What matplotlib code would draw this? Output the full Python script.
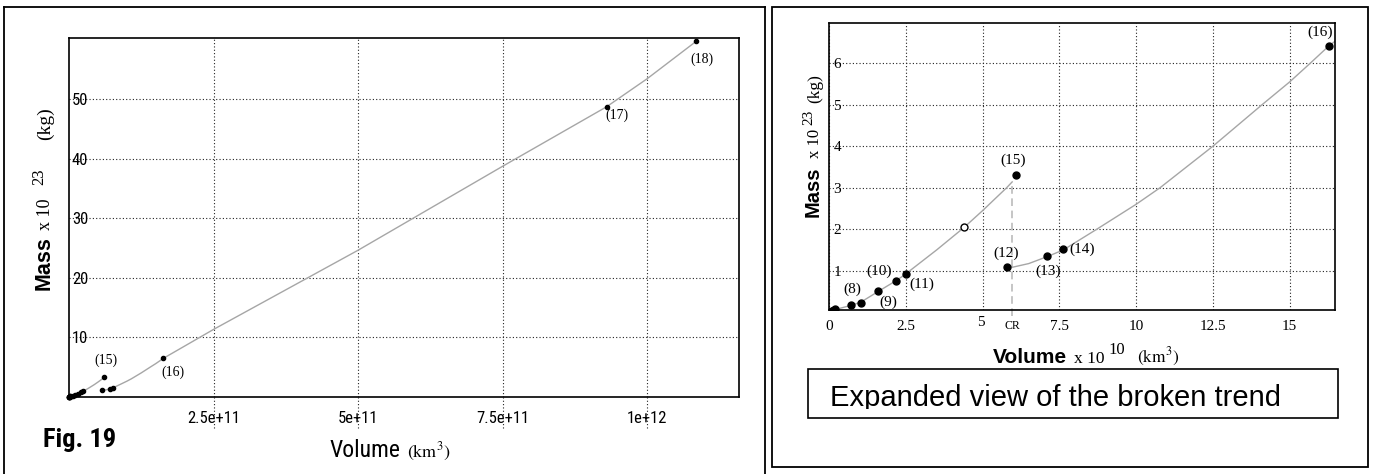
import matplotlib
matplotlib.use("Agg")
import matplotlib.pyplot as plt
from matplotlib import font_manager
from matplotlib.font_manager import FontProperties
from matplotlib.lines import Line2D
from matplotlib.patches import Rectangle
from matplotlib.transforms import Bbox, TransformedBbox, ScaledTranslation

# ---- data (volume in 1e10 km^3, mass in 1e23 kg) ----
point_names = ['', '', '', '', '', '', '', '(8)', '(9)', '(10)', '', '(11)',
               '(12)', '(13)', '(14)', '(15)', '(16)', '(17)', '(18)']
volume_e10 = [0.01, 0.03, 0.05, 0.08, 0.10, 0.14, 0.19, 0.70, 1.03, 1.60, 2.16, 2.50,
              5.78, 7.11, 7.63, 6.09, 16.28, 93.0, 108.5]
mass_e23 = [0.001, 0.004, 0.01, 0.02, 0.03, 0.05, 0.08, 0.16, 0.23, 0.51, 0.75, 0.92,
            1.09, 1.35, 1.51, 3.31, 6.42, 48.7, 59.7]

# trend before the break (up to CR)
trend_a_vol = [0.0, 0.19, 0.70, 1.03, 1.60, 2.16, 2.50, 2.63, 3.50, 4.39, 5.00, 5.78, 5.96]
trend_a_mass = [0.0, 0.06, 0.16, 0.24, 0.50, 0.75, 0.92, 1.00, 1.50, 2.04, 2.45, 3.00, 3.14]
# trend after the break
trend_b_vol = [5.96, 6.50, 7.11, 7.63, 8.72, 10.0, 10.78, 12.5, 14.1, 15.0, 15.67, 16.28,
               25.0, 50.0, 75.0, 93.0, 100.0, 108.5]
trend_b_mass = [1.08, 1.17, 1.34, 1.50, 2.00, 2.60, 3.00, 4.00, 5.00, 5.55, 6.00, 6.42,
                11.3, 24.6, 38.7, 48.7, 53.4, 59.7]

open_vol = [4.39]
open_mass = [2.04]
cr_volume = 5.96
cr_mass = 3.14

left_xticks = [2.5e11, 5e11, 7.5e11, 1e12]
left_xticklabels = ['2.5e+11', '5e+11', '7.5e+11', '1e+12']
left_yticks = [10, 20, 30, 40, 50]
right_xticks = [0, 2.5, 5, 7.5, 10, 12.5, 15]
right_xticklabels = ['0', '2.5', '5', '7.5', '10', '12.5', '15']
right_yticks = [1, 2, 3, 4, 5, 6]

# label offsets in pixels (x right, y up)
left_label_offsets = {'(15)': (2, 17), '(16)': (10, -14), '(17)': (10, -8), '(18)': (6, -18)}
right_label_offsets = {'(8)': (2, 16), '(9)': (27, 0), '(10)': (1, 20), '(11)': (16, -10),
                       '(12)': (-1, 14), '(13)': (1, -15), '(14)': (19, 0),
                       '(15)': (-3, 15), '(16)': (-9, 14)}

W, H = 1373, 474
SANS = 'Liberation Sans'
SERIF = 'Liberation Serif'
plt.rcParams['mathtext.fontset'] = 'stix'

GRID = dict(color='#222222', linestyle=(0, (1, 2)), linewidth=0.8)
TREND = '#a6a6a6'


def find_condensed(bold):
    """Look for an installed narrow/condensed sans font file."""
    def weight_ok(f):
        w = f.weight if isinstance(f.weight, int) else {'normal': 400, 'regular': 400,
                                                         'book': 400, 'bold': 700}.get(f.weight, 0)
        return (w >= 600) if bold else (350 <= w <= 500)
    ttf = [f for f in font_manager.fontManager.ttflist if f.style == 'normal' and weight_ok(f)]
    for pref in ['Liberation Sans Narrow', 'Arial Narrow', 'Roboto Condensed',
                 'Noto Sans Condensed', 'Open Sans Condensed', 'DejaVu Sans Condensed']:
        for f in ttf:
            if f.name == pref:
                return f.fname
    for f in ttf:
        if ('Narrow' in f.name or 'Condensed' in f.name) and 'Mono' not in f.name:
            return f.fname
    for f in ttf:
        if f.stretch in ('condensed', 'semi-condensed', 'extra-condensed') and 'Mono' not in f.name \
                and 'Serif' not in f.name:
            return f.fname
    return None


NARROW_REG = find_condensed(False)
NARROW_BOLD = find_condensed(True)


def narrow(size, bold=False):
    fname = NARROW_BOLD if bold else NARROW_REG
    if fname:
        return dict(fontproperties=FontProperties(fname=fname, size=size))
    # fall back to a regular sans, slightly smaller to keep the widths
    return dict(fontproperties=FontProperties(family=SANS, size=size * 0.86,
                                              weight='bold' if bold else 'normal'))


def fx(x):
    return x / W


def fy(y_top):
    return 1 - y_top / H


def chain_right(ax, prev, s, gap, base_px, **kw):
    return ax.annotate(s, xy=(1, base_px), xycoords=(prev, 'figure pixels'),
                       xytext=(gap, 0), textcoords='offset pixels', ha='left',
                       va='baseline', annotation_clip=False, **kw)


def chain_up(ax, prev, s, gap, base_px, **kw):
    return ax.annotate(s, xy=(base_px, 1), xycoords=('figure pixels', prev),
                       xytext=(0, gap), textcoords='offset pixels', rotation=90,
                       rotation_mode='anchor', ha='left', va='baseline',
                       annotation_clip=False, **kw)


fig = plt.figure(figsize=(W / 100, H / 100), dpi=100)

# ---------------- left panel: full range ----------------
ax1 = fig.add_axes([fx(69), fy(396.7), fx(670), 358.4 / H])
vol_km3 = [v * 1e10 for v in volume_e10]
ax1.plot([v * 1e10 for v in trend_a_vol], trend_a_mass, color=TREND, lw=1)
ax1.plot([v * 1e10 for v in trend_b_vol], trend_b_mass, color=TREND, lw=1)
ax1.plot(vol_km3, mass_e23, 'o', color='black', ms=3, ls='none', clip_on=False)
for name, x, y in zip(point_names, vol_km3, mass_e23):
    if name in left_label_offsets:
        ax1.annotate(name, (x, y), xytext=left_label_offsets[name], textcoords='offset pixels',
                     ha='center', va='center', fontsize=10, family=SERIF)
ax1.set_xlim(0, 1.159e12)
ax1.set_ylim(0, 60.2)
ax1.set_xticks(left_xticks)
ax1.set_xticklabels(left_xticklabels, **narrow(12))
ax1.set_yticks(left_yticks)
ax1.set_yticklabels([str(v) for v in left_yticks], ha='left', **narrow(12))
ax1.tick_params(axis='x', length=0, pad=10)
ax1.tick_params(axis='y', length=0, pad=-2)
ax1.grid(True, **GRID)
for xv in left_xticks:
    ax1.plot([xv, xv], [-0.087, 0], transform=ax1.get_xaxis_transform(), clip_on=False, **GRID)
for sp in ax1.spines.values():
    sp.set_linewidth(1.2)

# ---------------- right panel: expanded view ----------------
ax2 = fig.add_axes([fx(829.3), fy(310), fx(505.7), 287.3 / H])
ax2.plot([cr_volume, cr_volume], [-0.1, cr_mass], color='#b5b5b5', lw=1.1,
         dashes=(5, 3), clip_on=False)
ax2.plot(trend_a_vol, trend_a_mass, color=TREND, lw=1)
ax2.plot(trend_b_vol, trend_b_mass, color=TREND, lw=1)
ax2.plot(volume_e10, mass_e23, 'o', color='black', ms=5, ls='none')
ax2.plot(open_vol, open_mass, 'o', mfc='white', mec='black', mew=1, ms=5, ls='none')
for name, x, y in zip(point_names, volume_e10, mass_e23):
    if name in right_label_offsets:
        ax2.annotate(name, (x, y), xytext=right_label_offsets[name], textcoords='offset pixels',
                     ha='center', va='center', fontsize=11, family=SERIF, annotation_clip=False)
ax2.set_xlim(0, 16.48)
ax2.set_ylim(0.05, 6.98)
ax2.set_xticks(right_xticks)
ax2.set_xticklabels(right_xticklabels, fontsize=11, family=SERIF)
ax2.set_xticks([cr_volume], minor=True)
ax2.set_xticklabels(['CR'], minor=True, fontsize=8.5, family=SERIF)
ax2.set_yticks(right_yticks)
ax2.set_yticklabels([str(v) for v in right_yticks], fontsize=11, family=SERIF, ha='left')
ax2.tick_params(axis='x', which='both', length=0, pad=7)
ax2.tick_params(axis='y', length=0, pad=-3)
ax2.grid(True, which='major', **GRID)
for sp in ax2.spines.values():
    sp.set_linewidth(1.2)
# the "5" label sits a little higher and to the left in the original
five = ax2.xaxis.get_major_ticks()[2].label1
five.set_transform(five.get_transform() + ScaledTranslation(-2 / 100, 4 / 100, fig.dpi_scale_trans))

# ---------------- axis titles ----------------
fig.text(fx(42.7), fy(447.3), 'Fig. 19', va='baseline', **narrow(19, bold=True))
t = fig.text(fx(330), fy(457.3), 'Volume', va='baseline', **narrow(17))
chain_right(ax1, t, r'$\mathrm{(km^3)}$', 6, H - 457.3, fontsize=13)

t = fig.text(fx(50), fy(290), 'Mass', fontsize=15.5, fontweight='bold', family=SANS,
             rotation=90, rotation_mode='anchor', ha='left', va='baseline')
t = chain_up(ax1, t, 'x 10', 6, 50, fontsize=13, family=SERIF)
t = chain_up(ax1, t, '23', 14, 43, fontsize=12, family=SERIF)
chain_up(ax1, t, '(kg)', 28, 50, fontsize=14, family=SERIF)

t = fig.text(fx(993), fy(362.7), 'Volume', fontsize=15, fontweight='bold', family=SANS,
             va='baseline')
t = chain_right(ax2, t, 'x 10', 7, H - 362.7, fontsize=12.5, family=SERIF)
t = chain_right(ax2, t, '10', 4, H - 354, fontsize=12, family=SERIF)
chain_right(ax2, t, r'$\mathrm{(km^3)}$', 12, H - 362.7, fontsize=12.5)

t = fig.text(fx(819), fy(216.7), 'Mass', fontsize=14.5, fontweight='bold', family=SANS,
             rotation=90, rotation_mode='anchor', ha='left', va='baseline')
t = chain_up(ax2, t, 'x 10', 8, 819, fontsize=12, family=SERIF)
t = chain_up(ax2, t, '23', 4, 812, fontsize=11, family=SERIF)
chain_up(ax2, t, '(kg)', 7, 819, fontsize=12.5, family=SERIF)

# ---------------- caption box ----------------
fig.add_artist(Rectangle((fx(808.3), fy(417.5)), fx(529.4), 48.2 / H, fill=False,
                         edgecolor='black', lw=1.2, transform=fig.transFigure))
cap = fig.text(fx(830), fy(406.5), 'Expanded view of the broken trend', fontsize=21,
               family=SANS, va='baseline')
cap.set_clip_box(TransformedBbox(Bbox([[fx(808), fy(409)], [fx(1338), fy(369)]]),
                                 fig.transFigure))
cap.set_clip_on(True)

# ---------------- panel frames ----------------
frame = dict(color='black', lw=1.3, transform=fig.transFigure)
fig.add_artist(Line2D([fx(4), fx(4)], [fy(474), fy(7)], **frame))
fig.add_artist(Line2D([fx(4), fx(765)], [fy(7), fy(7)], **frame))
fig.add_artist(Line2D([fx(765), fx(765)], [fy(7), fy(474)], **frame))
fig.add_artist(Rectangle((fx(772), fy(466.5)), fx(596), 459.5 / H, fill=False,
                         edgecolor='black', lw=1.3, transform=fig.transFigure))

fig.savefig('out.png', dpi=100)
